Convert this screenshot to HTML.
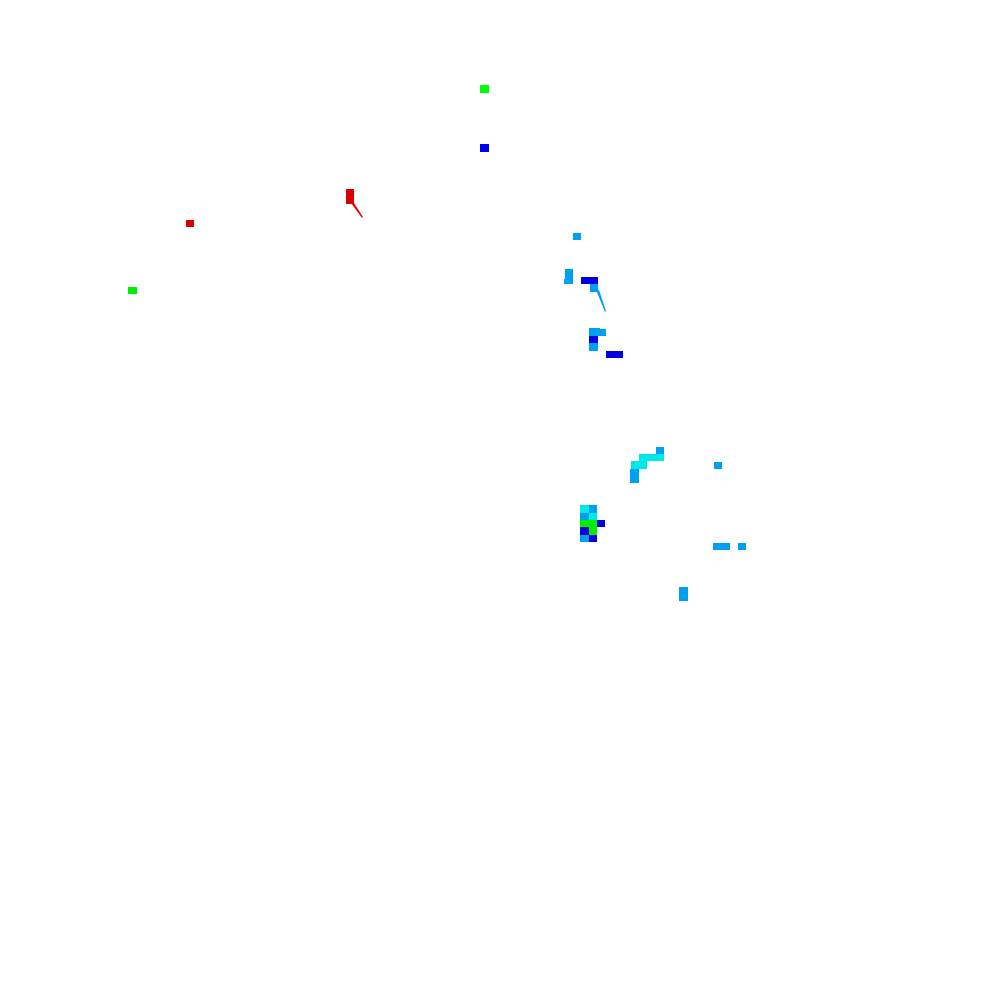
<!DOCTYPE html>
<html><head><style>
html,body{margin:0;padding:0;background:#fff;width:1000px;height:1000px;overflow:hidden}
</style></head><body>
<svg width="1000" height="1000" xmlns="http://www.w3.org/2000/svg" shape-rendering="crispEdges">
<rect x="480" y="85" width="9" height="8" fill="#00ff00"/>
<rect x="480" y="144" width="9" height="8" fill="#0000f0"/>
<rect x="346" y="189" width="8" height="15" fill="#d80000"/>
<polygon points="351,203 354,203 363,217 362,218" fill="#e80000" shape-rendering="auto"/>
<rect x="186" y="220" width="8" height="7" fill="#d80000"/>
<rect x="128" y="287" width="9" height="7" fill="#00ee00"/>
<rect x="573" y="233" width="8" height="7" fill="#00a0f0"/>
<rect x="565" y="269" width="8" height="10" fill="#00a0f0"/>
<rect x="564" y="279" width="9" height="5" fill="#00a0f0"/>
<rect x="581" y="277" width="17" height="7" fill="#0000e0"/>
<rect x="590" y="284" width="8" height="8" fill="#00a0f0"/>
<polygon points="596,290 599,290 606,311 605,312" fill="#00a0f0" shape-rendering="auto"/>
<rect x="589" y="328" width="11" height="8" fill="#00a0f0"/>
<rect x="600" y="329" width="6" height="7" fill="#00a0f0"/>
<rect x="589" y="336" width="9" height="7" fill="#0000e0"/>
<rect x="589" y="343" width="9" height="8" fill="#00a0f0"/>
<rect x="606" y="351" width="17" height="7" fill="#0000e0"/>
<rect x="656" y="447" width="8" height="7" fill="#00a0f0"/>
<rect x="639" y="454" width="25" height="7" fill="#00e8e8"/>
<rect x="631" y="461" width="16" height="8" fill="#00e8e8"/>
<rect x="630" y="469" width="9" height="14" fill="#00a0f0"/>
<rect x="714" y="462" width="8" height="7" fill="#00a0f0"/>
<rect x="580" y="505" width="9" height="8" fill="#00e8e8"/>
<rect x="589" y="505" width="8" height="8" fill="#00a0f0"/>
<rect x="580" y="513" width="9" height="7" fill="#00a0f0"/>
<rect x="589" y="513" width="8" height="7" fill="#00e8e8"/>
<rect x="580" y="520" width="17" height="7" fill="#00ee00"/>
<rect x="597" y="520" width="8" height="7" fill="#0000e0"/>
<rect x="580" y="527" width="9" height="8" fill="#0000e0"/>
<rect x="589" y="527" width="8" height="8" fill="#00ee00"/>
<rect x="580" y="535" width="9" height="7" fill="#00a0f0"/>
<rect x="589" y="535" width="8" height="7" fill="#0000e0"/>
<rect x="713" y="543" width="17" height="7" fill="#00a0f0"/>
<rect x="738" y="543" width="8" height="7" fill="#00a0f0"/>
<rect x="679" y="587" width="9" height="14" fill="#00a0f0"/>
</svg>
</body></html>
